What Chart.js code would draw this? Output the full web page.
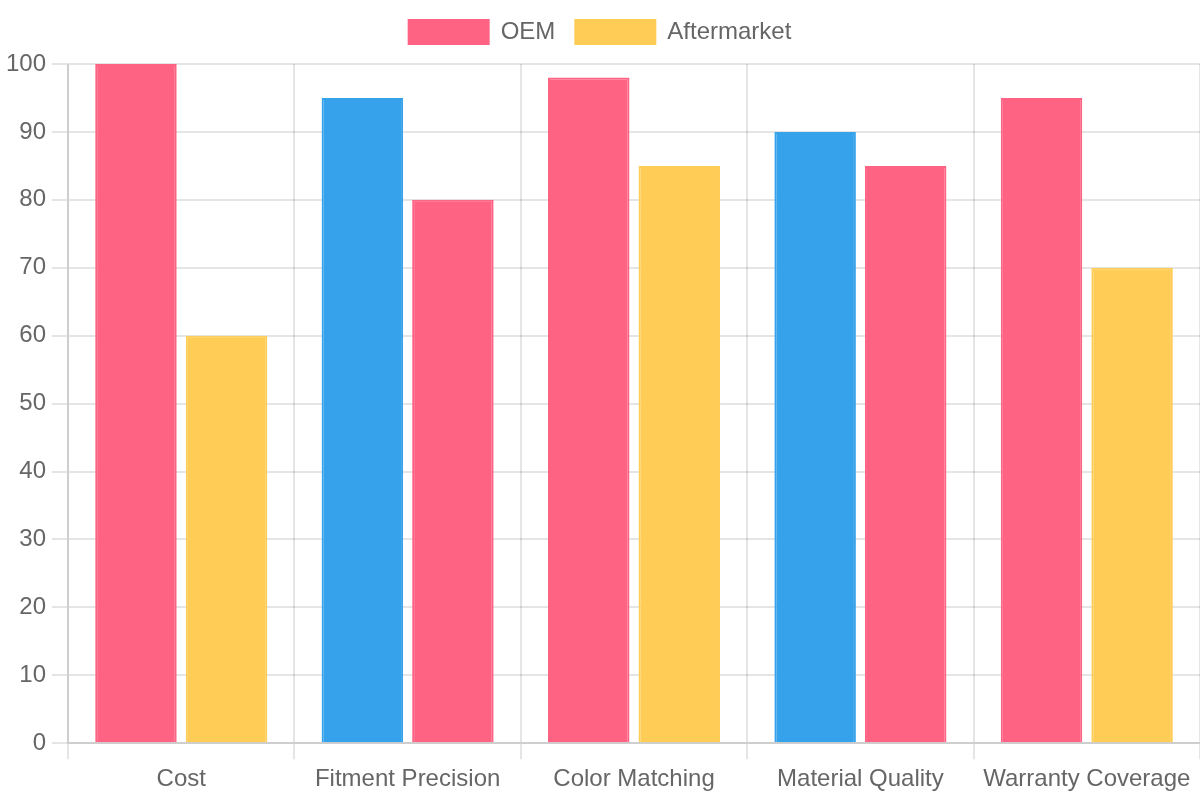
<!DOCTYPE html>
<html>
<head>
<meta charset="utf-8">
<script src="https://cdn.jsdelivr.net/npm/chart.js@4"></script>
<style>
  html, body { margin: 0; padding: 0; background: #fff; width: 1200px; height: 800px; overflow: hidden; }
  #outer { width: 1200px; height: 800px; position: relative; }
  #wrap { position: absolute; left: 0; top: 0; width: 600px; height: 400px; transform: scale(2); transform-origin: 0 0; }
</style>
</head>
<body>
<div id="outer"><div id="wrap"><canvas id="myChart" width="600" height="400"></canvas></div></div>
<script>
const categories = ['Cost', 'Fitment Precision', 'Color Matching', 'Material Quality', 'Warranty Coverage']
const oemValues = [100, 95, 98, 90, 95]
const aftermarketValues = [60, 80, 85, 85, 70]

const pink = 'rgb(255, 99, 132)'
const yellow = 'rgb(255, 205, 86)'
const blue = 'rgb(54, 162, 235)'

// colours per bar, as in the original
const oemColors = [pink, blue, pink, blue, pink]
const aftermarketColors = [yellow, pink, yellow, pink, yellow]

const ctx = document.querySelector('#myChart')
const myChart = new Chart(ctx, {
  type: 'bar',
  data: {
    labels: categories,
    datasets: [
      {
        label: 'OEM',
        data: oemValues,
        backgroundColor: oemColors,
        borderColor: oemColors,
        borderWidth: 1
      },
      {
        label: 'Aftermarket',
        data: aftermarketValues,
        backgroundColor: aftermarketColors,
        borderColor: aftermarketColors,
        borderWidth: 1
      }
    ]
  },
  options: {
    responsive: false,
    animation: false,
    devicePixelRatio: 2,
    scales: {
      y: {
        beginAtZero: true,
        max: 100
      }
    }
  }
})
</script>
</body>
</html>
